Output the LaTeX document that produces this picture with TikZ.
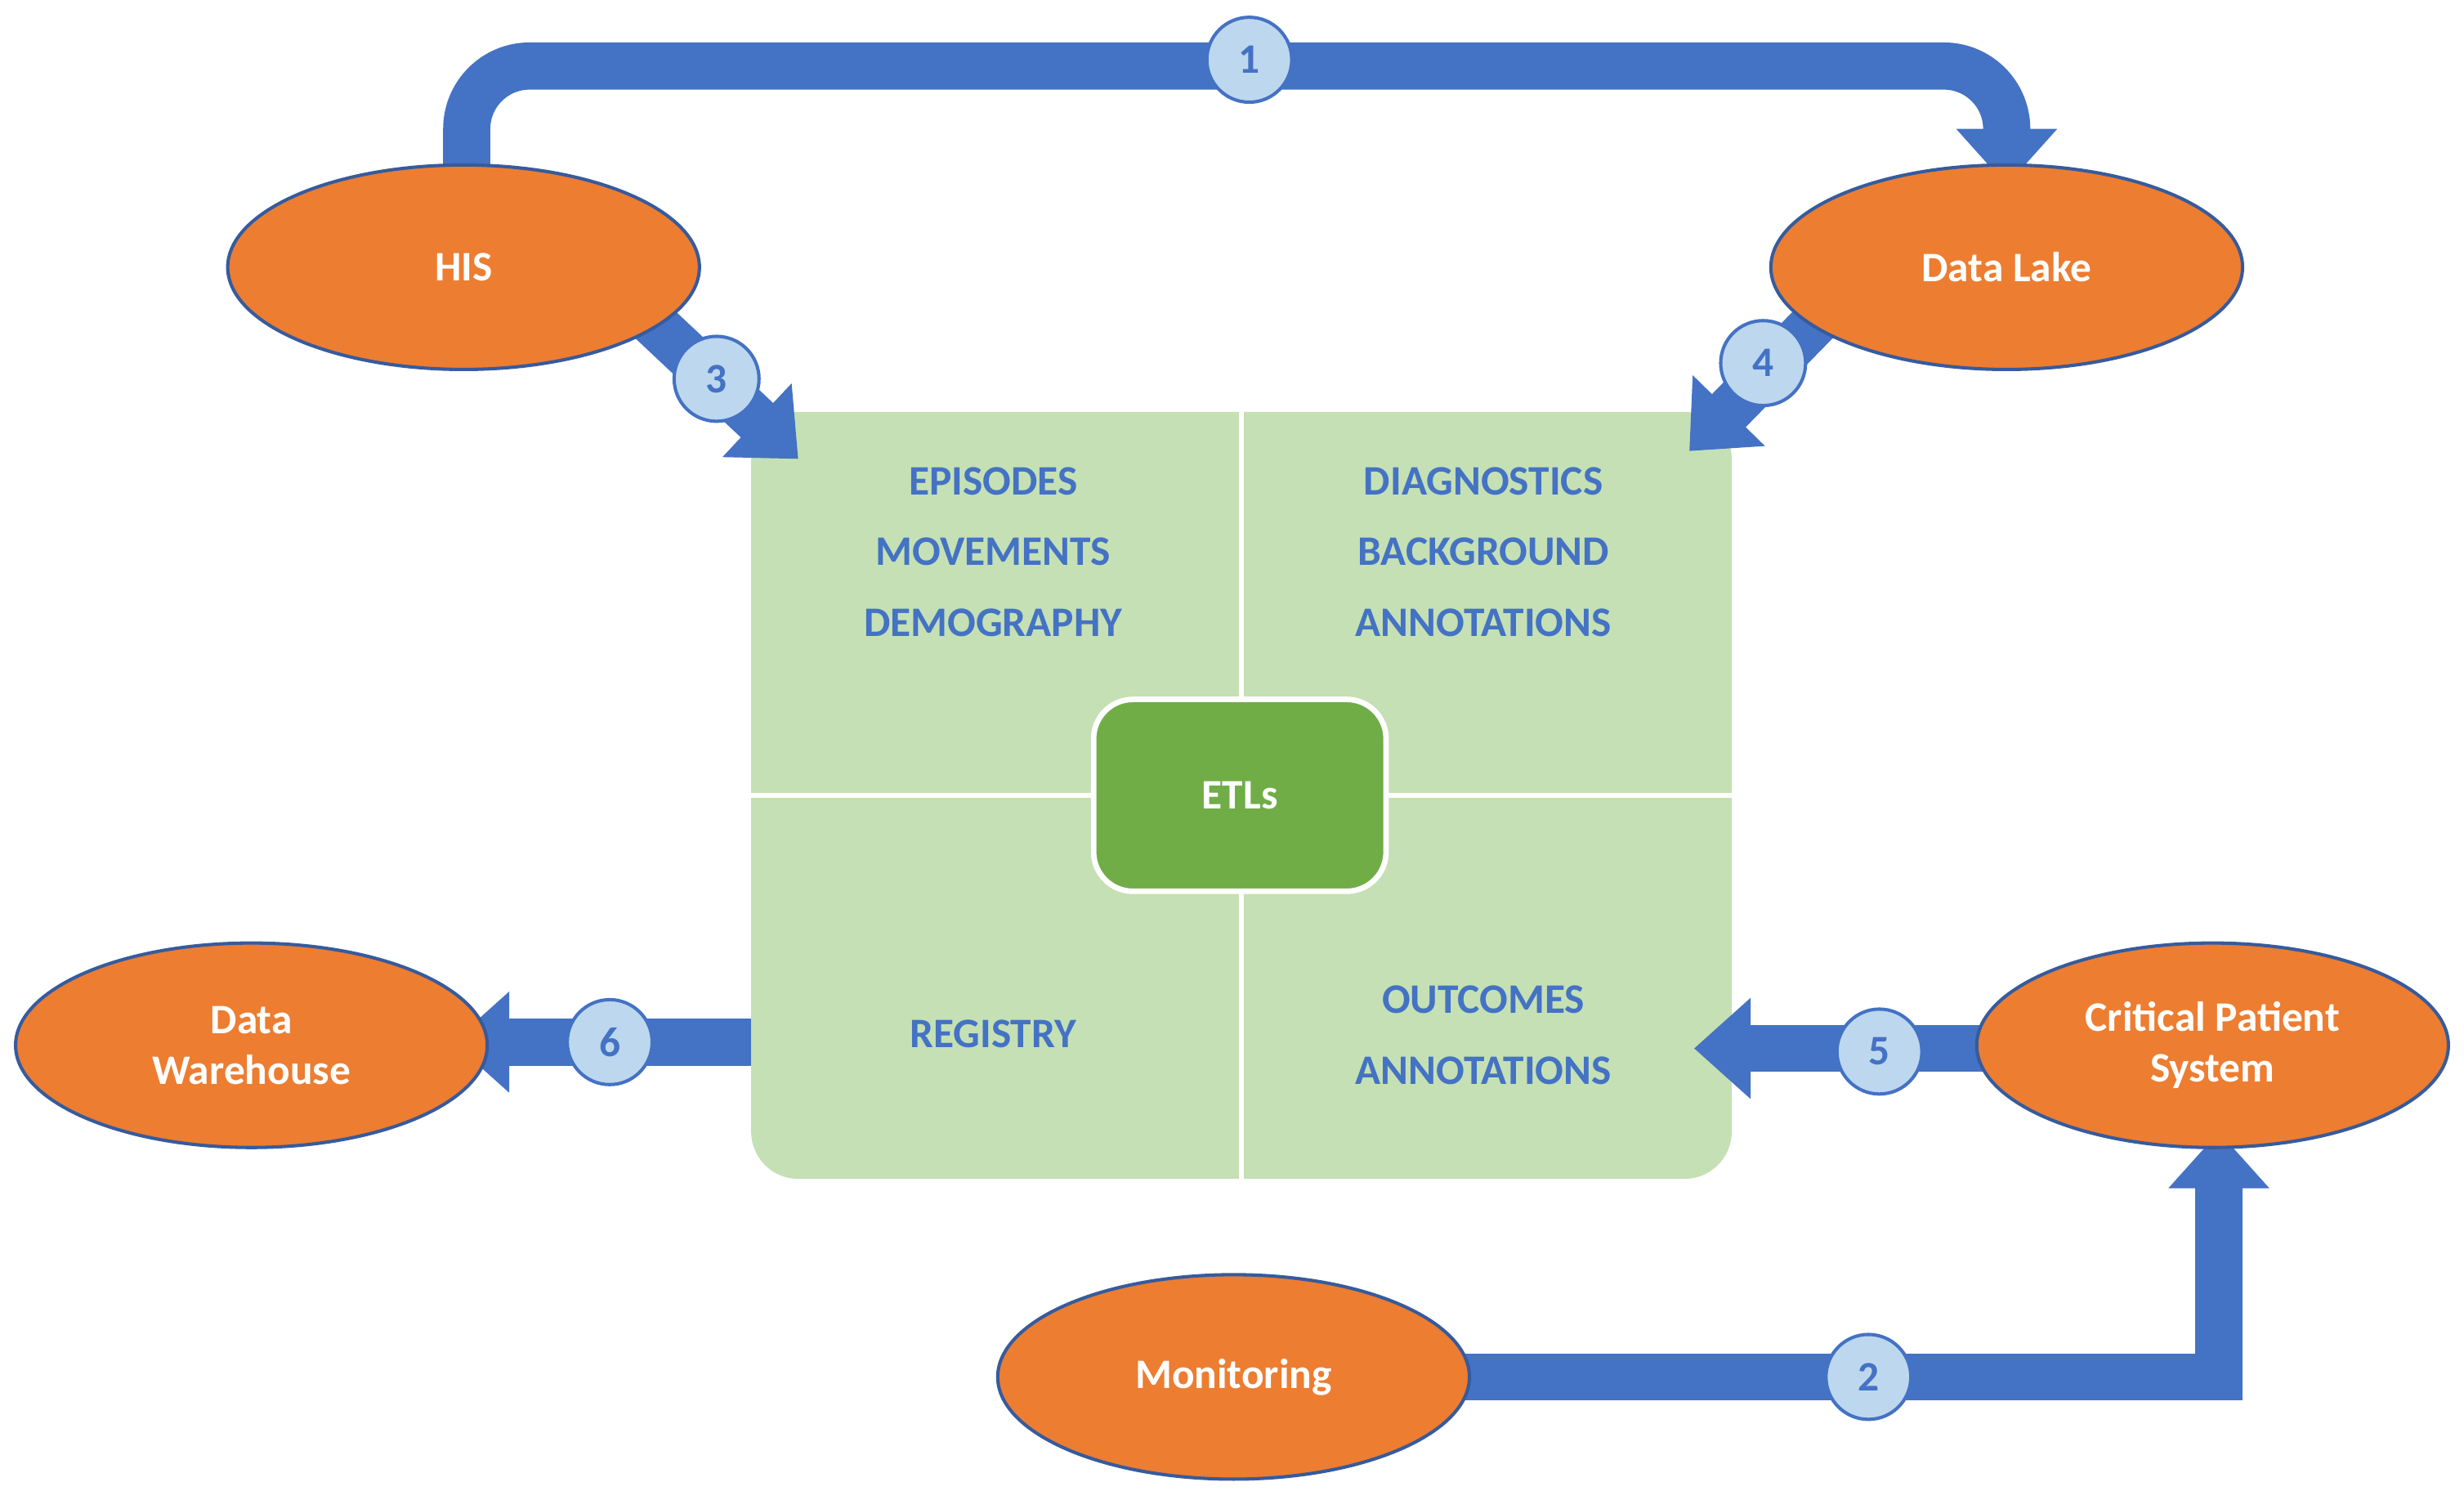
\documentclass[tikz,border=0pt]{standalone}
\usepackage{fontspec}
\setmainfont{Carlito}
\usetikzlibrary{arrows.meta,shapes.geometric}
\definecolor{bl}{HTML}{4472C4}
\definecolor{lbl}{HTML}{BDD7EE}
\definecolor{org}{HTML}{ED7D31}
\definecolor{lg}{HTML}{C5E0B4}
\definecolor{dg}{HTML}{70AD47}
\begin{document}
\begin{tikzpicture}[x=0.01cm,y=-0.01cm,
  font=\fontsize{7.6}{9.2}\selectfont\bfseries,
  ell/.style={ellipse,draw=bl!80!black,line width=0.6pt,fill=org,text=white,minimum width=3cm,minimum height=1.3cm,align=center},
  num/.style={circle,draw=bl,line width=0.6pt,fill=lbl,text=bl,minimum size=0.54cm,inner sep=0pt},
  flow/.style={draw=bl,line width=0.3cm,-{Triangle[width=0.62cm,length=0.36cm]}},
  lab/.style={text=bl,anchor=center}]
\useasboundingbox (0,0) rectangle (1568,960);
% box
\fill[lg,rounded corners=0.3cm] (478,262) -- (1102,262) -- (1102,750) -- (478,750) -- cycle;
\fill[lg] (478,262) rectangle (540,320);
\draw[white,line width=1pt] (790,262) -- (790,750) (478,506) -- (1102,506);
\node[draw=white,line width=1pt,fill=dg,text=white,rounded corners=0.25cm,minimum width=1.86cm,minimum height=1.22cm] (etl) at (789,506) {ETLs};
\node[lab] (e1) at (632,306) {EPISODES};
\node[lab] (e2) at (632,351) {MOVEMENTS};
\node[lab] (e3) at (632,396) {DEMOGRAPHY};
\node[lab] (d1) at (944,306) {DIAGNOSTICS};
\node[lab] (d2) at (944,351) {BACKGROUND};
\node[lab] (d3) at (944,396) {ANNOTATIONS};
\node[lab] (r1) at (632,658) {REGISTRY};
\node[lab] (o1) at (944,636) {OUTCOMES};
\node[lab] (o2) at (944,681) {ANNOTATIONS};
% coordinates
\coordinate (his0) at (297,110);
\coordinate (dltip) at (1277,118);
\coordinate (h3a) at (410,200);
\coordinate (h3b) at (508,292);
\coordinate (d4a) at (1165,195);
\coordinate (d4b) at (1075,287);
\coordinate (b6a) at (478,663);
\coordinate (b6b) at (288,663);
\coordinate (c5a) at (1265,667);
\coordinate (c5b) at (1078,667);
\coordinate (m2a) at (920,876);
\coordinate (m2b) at (1412,720);
% arrows
\draw[flow,rounded corners=0.4cm] (his0) -- (297,42) -- (1277,42) -- (dltip);
\draw[flow] (h3a) -- (h3b);
\draw[flow] (d4a) -- (d4b);
\draw[flow] (b6a) -- (b6b);
\draw[flow] (c5a) -- (c5b);
\draw[flow] (m2a) -- (1412,876) -- (m2b);
% ellipses
\node[ell] (his) at (295,170) {HIS};
\node[ell] (dl) at (1277,170) {Data Lake};
\node[ell] (dw) at (160,665) {Data\\Warehouse};
\node[ell] (cps) at (1408,665) {Critical Patient\\System};
\node[ell] (mon) at (785,876) {Monitoring};
% numbers
\node[num] (n1) at (795,38) {1};
\node[num] (n2) at (1189,876) {2};
\node[num] (n3) at (456,241) {3};
\node[num] (n4) at (1122,231) {4};
\node[num] (n5) at (1196,669) {5};
\node[num] (n6) at (388,663) {6};
\end{tikzpicture}
\end{document}
